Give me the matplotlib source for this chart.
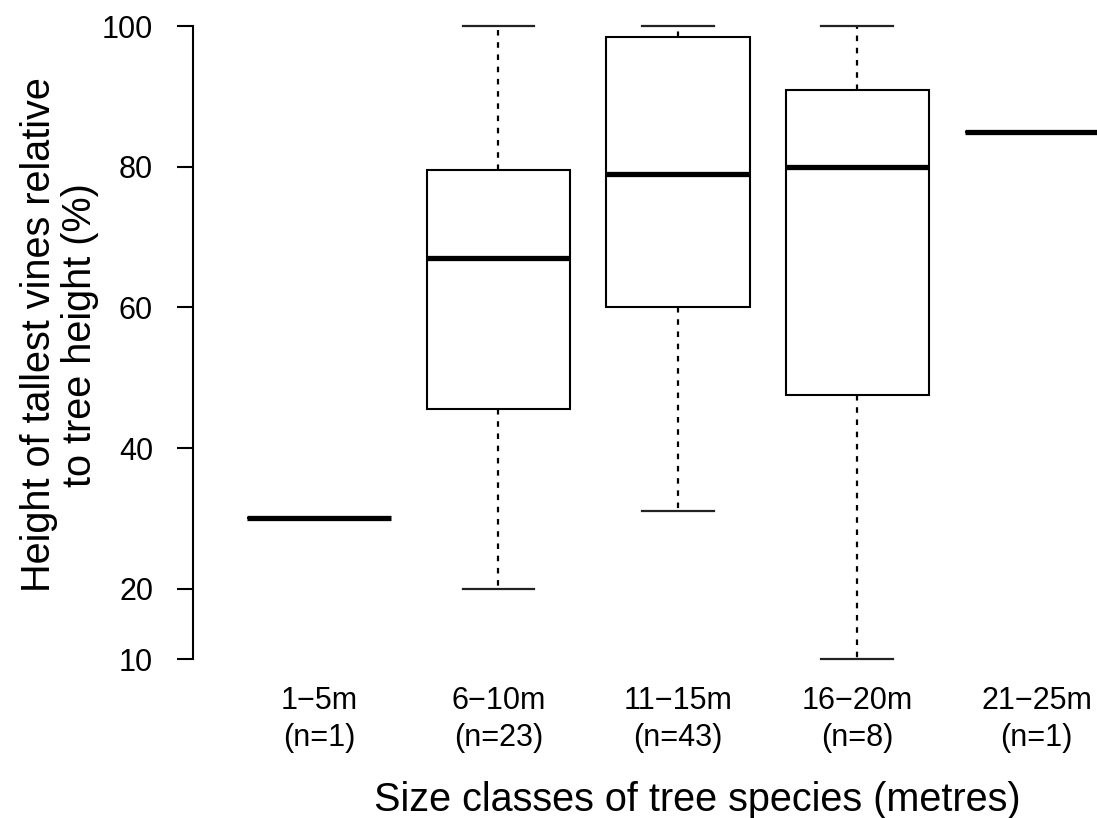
import numpy as np
import matplotlib.pyplot as plt

# size classes and sample counts
classes = ['1−5m', '6−10m', '11−15m', '16−20m', '21−25m']
counts = [1, 23, 43, 8, 1]

# box statistics (% of tree height)
whis_low = [30, 20, 31, 10, 85]
q1 = [30, 45.6, 60, 47.5, 85]
medians = [30, 67, 79, 80, 85]
q3 = [30, 79.5, 98.4, 90.9, 85]
whis_high = [30, 100, 100, 100, 85]

yticks = [10, 20, 40, 60, 80, 100]

plt.rcParams['font.family'] = ['Liberation Sans', 'DejaVu Sans']

fig = plt.figure(figsize=(10.97, 8.18), dpi=100)
# plot region runs past the right edge of the figure, like the original
ax = fig.add_axes([0.1763, 0.1634, 0.8833, 0.8357])

stats = []
for i in range(len(classes)):
    stats.append({'whislo': whis_low[i], 'q1': q1[i], 'med': medians[i],
                  'q3': q3[i], 'whishi': whis_high[i], 'fliers': []})

ax.bxp(stats, positions=np.arange(1, len(classes) + 1), widths=0.8,
       capwidths=0.4, showfliers=False, patch_artist=True,
       boxprops=dict(facecolor='white', edgecolor='black', linewidth=1.5),
       medianprops=dict(color='black', linewidth=3.8, solid_capstyle='butt'),
       whiskerprops=dict(color='black', linewidth=1.6, linestyle=(0, (2.5, 3))),
       capprops=dict(color='#222222', linewidth=1.6))

ax.set_xlim(0.3, 5.7)
ax.set_ylim(6.4, 103.6)

for s in ['top', 'right', 'bottom']:
    ax.spines[s].set_visible(False)
ax.spines['left'].set_bounds(10, 100)
ax.spines['left'].set_linewidth(1.5)

ax.set_yticks(yticks)
ax.tick_params(axis='y', length=11.5, width=1.5, pad=17.5, labelsize=22)

ax.set_xticks(np.arange(1, len(classes) + 1))
ax.set_xticklabels(['%s\n(n=%d)' % (c, n) for c, n in zip(classes, counts)],
                   linespacing=1.3)
ax.tick_params(axis='x', length=0, pad=1, labelsize=22)

ax.set_xlabel('Size classes of tree species (metres)', fontsize=28.5)
ax.xaxis.set_label_coords(0.52, -0.185)
ax.xaxis.label.set_va('baseline')

ax.set_ylabel('Height of tallest vines relative\nto tree height (%)',
              fontsize=28.5, linespacing=1.1)
ax.yaxis.set_label_coords(-0.1385, 0.511)
ax.yaxis.label.set_va('center')

plt.savefig('out.png', dpi=100)
